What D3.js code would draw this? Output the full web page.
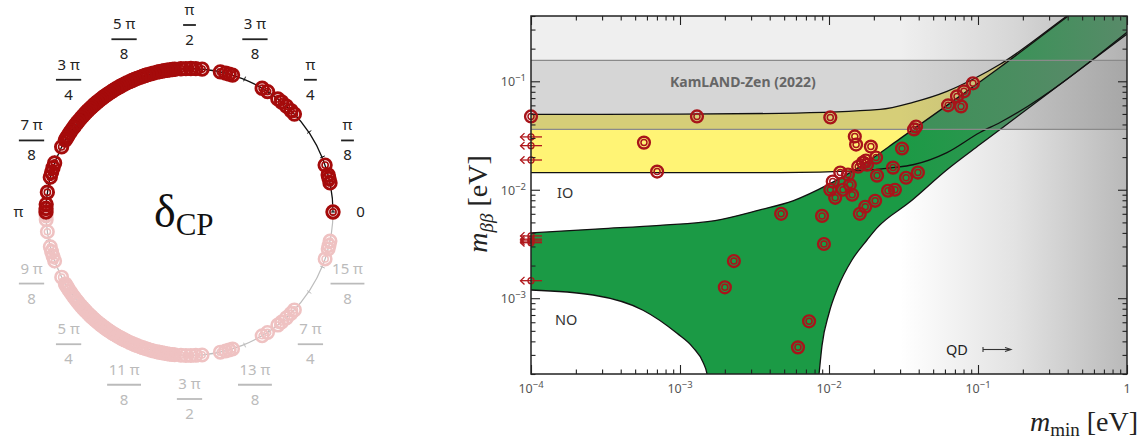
<!DOCTYPE html>
<html>
<head>
<meta charset="utf-8">
<script src="https://cdn.jsdelivr.net/npm/d3@7"></script>
<style>
  body { margin: 0; background: #fff; }
  svg { display: block; }
</style>
</head>
<body>
<div id="svg-holder"></div>
<script>
// ---- left panel: delta_CP values (in units of pi), upper half
const deltaCP = [0, 0.065, 0.075, 0.083, 0.106, 0.239, 0.25, 0.264, 0.278, 0.289, 0.317, 0.331,
  0.403, 0.411, 0.419, 0.431, 0.472, 0.486, 0.497, 0.508, 0.519, 0.533, 0.538, 0.544, 0.55,
  0.556, 0.561, 0.567, 0.572, 0.581, 0.587, 0.594, 0.6, 0.606, 0.612, 0.619, 0.625, 0.631,
  0.637, 0.644, 0.65, 0.656, 0.661, 0.667, 0.672, 0.678, 0.683, 0.689, 0.694, 0.7, 0.705,
  0.711, 0.716, 0.722, 0.728, 0.733, 0.739, 0.744, 0.75, 0.756, 0.761, 0.767, 0.773, 0.781,
  0.787, 0.794, 0.8, 0.808, 0.815, 0.822, 0.828, 0.833, 0.85, 0.889, 0.9, 0.911, 0.922,
  0.956, 0.983, 0.992, 1.0];
// angle labels, [numerator, denominator], every pi/8
const angleLabels = [["0", ""], ["π", "8"], ["π", "4"], ["3 π", "8"], ["π", "2"], ["5 π", "8"],
  ["3 π", "4"], ["7 π", "8"], ["π", ""], ["9 π", "8"], ["5 π", "4"], ["11 π", "8"], ["3 π", "2"],
  ["13 π", "8"], ["7 π", "4"], ["15 π", "8"]];

// ---- right panel
const mMin = [1.0e-4, 1.30e-3, 5.73e-4, 7.02e-4, 4.77e-3, 2.30e-3, 2.00e-3, 6.19e-3, 7.35e-3,
  9.25e-3, 8.98e-3, 1.02e-2, 1.49e-2, 1.52e-2, 1.91e-2, 3.09e-2, 2.07e-2, 1.69e-2, 1.57e-2,
  1.80e-2, 1.19e-2, 1.34e-2, 1.06e-2, 2.10e-2, 2.69e-2, 3.29e-2, 3.95e-2, 1.38e-2, 1.02e-2,
  1.24e-2, 1.10e-2, 1.43e-2, 2.49e-2, 2.77e-2, 2.04e-2, 1.75e-2, 1.61e-2, 3.84e-2, 3.72e-2,
  6.30e-2, 7.23e-2, 8.05e-2, 9.25e-2, 7.69e-2, 1.77e-2];
const mBB = [0.0474, 0.0474, 0.0272, 0.0147, 6.0e-3, 2.20e-3, 1.26e-3, 3.52e-4, 6.12e-4,
  3.16e-3, 5.74e-3, 0.0464, 0.031, 0.0261, 0.025, 0.024, 0.0198, 0.0178, 0.0163,
  0.0170, 0.0144, 0.0138, 0.0119, 0.0135, 0.016, 0.0129, 0.0144, 0.0111, 0.0100,
  0.0100, 8.43e-3, 8.99e-3, 9.79e-3, 0.0100, 7.91e-3, 6.97e-3, 6.0e-3, 0.0383, 0.036,
  0.060, 0.0726, 0.0808, 0.0958, 0.0587, 0.0186];
// upper limits drawn at the left edge (m_min below 1e-4)
const limitMBB = [0.0307, 0.0255, 0.0188, 0.00375, 0.0035, 0.00337, 0.00325, 0.00145];

// band edges, [m_min, m_bb]
const ioUpper = [[1e-4, 0.0495], [1e-3, 0.0497], [4.7e-3, 0.0506], [0.022, 0.0551], [0.0366, 0.064],
  [0.0619, 0.0808], [0.0925, 0.1044], [0.1406, 0.1436], [0.395, 0.40], [1, 1.02]];
const ioLower = [[1e-4, 0.0144], [4.7e-3, 0.0144], [0.0161, 0.0150], [0.0269, 0.0160], [0.0366, 0.0170],
  [0.0619, 0.0220], [0.103, 0.0337], [0.1406, 0.0417], [1, 0.284]];
const noUpper = [[1e-4, 0.0040], [2.9e-4, 0.00436], [7.35e-4, 0.00470], [1.72e-3, 0.00520],
  [3.44e-3, 0.00653], [5.73e-3, 0.0079], [0.01016, 0.01137], [0.01614, 0.01633], [0.030, 0.0296],
  [0.0619, 0.060], [0.1406, 0.1349], [0.395, 0.392], [1, 1.0]];
const noLowerLeft = [[1e-4, 0.00119], [2.61e-4, 0.00107], [5.65e-4, 7.75e-4], [9.55e-4, 4.74e-4],
  [1.22e-3, 3.52e-4], [1.43e-3, 2.55e-4], [1.52e-3, 1.98e-4], [1.57e-3, 1.41e-4]];
const noLowerRight = [[8.3e-3, 1.26e-4], [8.57e-3, 1.98e-4], [8.98e-3, 3.67e-4], [0.0100, 7.26e-4],
  [0.01149, 1.26e-3], [0.01426, 2.25e-3], [0.018, 3.44e-3], [0.021, 4.45e-3], [0.035, 7.74e-3],
  [0.0619, 0.0153], [0.103, 0.0261], [0.1406, 0.036], [1, 0.272]];

const kamland = [0.036, 0.156];
const qdStart = 0.03;
const xMajor = [1e-4, 1e-3, 1e-2, 1e-1, 1];
const xTickLabels = [["10", "−4"], ["10", "−3"], ["10", "−2"], ["10", "−1"], ["1", ""]];
const yMajor = [1e-3, 1e-2, 1e-1];
const yTickLabels = [["10", "−3"], ["10", "−2"], ["10", "−1"]];

const svg = d3.select("#svg-holder").append("svg")
  .attr("width", 1145).attr("height", 441);

// ===================== left: delta_CP circle
const cx = 189.5, cy = 212, R = 143.5;
const red = "#a50b0b", pale = "#efc2c2";
const ang = d3.scaleLinear().domain([0, 2]).range([Math.PI / 2, Math.PI / 2 - 2 * Math.PI]);
const polar = (d, r) => d3.pointRadial(ang(d), r);
const lp = svg.append("g").attr("transform", `translate(${cx},${cy})`);

const upperArc = d3.path(); upperArc.moveTo(-R, 0); upperArc.arc(0, 0, R, Math.PI, 2 * Math.PI);
const lowerArc = d3.path(); lowerArc.moveTo(R, 0); lowerArc.arc(0, 0, R, 0, Math.PI);
lp.append("path").attr("d", lowerArc.toString()).attr("fill", "none").attr("stroke", "#bdbdbd").attr("stroke-width", 1.2);
lp.append("path").attr("d", upperArc.toString()).attr("fill", "none").attr("stroke", "#111").attr("stroke-width", 1.3);

lp.selectAll("line.tick").data(d3.range(32).map(i => i / 16)).join("line")
  .attr("class", "tick")
  .attr("x1", d => polar(d, R - 2)[0]).attr("y1", d => polar(d, R - 2)[1])
  .attr("x2", d => polar(d, R + 3)[0]).attr("y2", d => polar(d, R + 3)[1])
  .attr("stroke", d => d <= 1 ? "#111" : "#bdbdbd").attr("stroke-width", 1);

function ringMarks(g, vals, col, r1, w1, r2, w2) {
  const m = g.append("g").selectAll("g").data(vals).join("g")
    .attr("transform", d => `translate(${polar(d, R)})`);
  m.append("circle").attr("r", r1).attr("fill", "none").attr("stroke", col).attr("stroke-width", w1);
  m.append("circle").attr("r", r2).attr("fill", "none").attr("stroke", col).attr("stroke-width", w2);
}
ringMarks(lp, deltaCP.map(d => 2 - d), pale, 6.2, 2.6, 3.1, 1.5);
ringMarks(lp, deltaCP, red, 6.2, 2.9, 3.1, 1.6);

const lab = lp.selectAll("g.lab").data(angleLabels).join("g").attr("class", "lab")
  .attr("transform", (d, i) => {
    const a = ang(i / 8);
    return `translate(${171 * Math.sin(a)},${-187 * Math.cos(a)})`;
  })
  .attr("fill", (d, i) => i <= 8 ? "#222" : "#bbb")
  .attr("font-family", "'Noto Sans', 'DejaVu Sans', sans-serif").attr("font-size", 15);
lab.each(function (d, i) {
  const g = d3.select(this);
  const col = i <= 8 ? "#222" : "#bbb";
  if (d[1] === "") {
    g.append("text").attr("text-anchor", "middle").attr("y", 5).text(d[0]);
  } else {
    const num = g.append("text").attr("text-anchor", "middle").attr("y", -10).text(d[0]);
    const w = num.node().getComputedTextLength() + 3;
    g.append("line").attr("x1", -w / 2).attr("x2", w / 2).attr("stroke", col).attr("stroke-width", 1.8);
    g.append("text").attr("text-anchor", "middle").attr("y", 20).text(d[1]);
  }
});

const dl = svg.append("text").attr("x", 154).attr("y", 227)
  .attr("font-family", "'Liberation Serif', 'DejaVu Serif', serif").attr("font-size", 46).attr("fill", "#111");
dl.append("tspan").text("δ");
dl.append("tspan").attr("font-size", 31).attr("dy", 8).text("CP");

// ===================== right: m_bb vs m_min
const x = d3.scaleLog().domain([1e-4, 1]).range([531, 1127]);
const y = d3.scaleLog().domain([2e-4, 0.4]).range([374, 16]);
const [x0, x1] = x.range(), [y0, y1] = y.range();
const defs = svg.append("defs");
defs.append("clipPath").attr("id", "plotClip").append("rect")
  .attr("x", x0).attr("y", y1).attr("width", x1 - x0).attr("height", y0 - y1);

const curve = d3.curveMonotoneX;
const under = d3.area().x(d => x(d[0])).y0(y0 + 60).y1(d => y(d[1])).curve(curve);
const over = d3.area().x(d => x(d[0])).y0(y1 - 60).y1(d => y(d[1])).curve(curve);
const line = d3.line().x(d => x(d[0])).y(d => y(d[1])).curve(curve);

defs.append("clipPath").attr("id", "aboveIO").append("path").attr("d", over(ioLower));
const qd = defs.append("linearGradient").attr("id", "qdGrad").attr("gradientUnits", "userSpaceOnUse")
  .attr("x1", x(qdStart)).attr("x2", x1).attr("y1", 0).attr("y2", 0);
qd.append("stop").attr("offset", 0).attr("stop-color", "#808080").attr("stop-opacity", 0);
qd.append("stop").attr("offset", 0.5).attr("stop-color", "#808080").attr("stop-opacity", 0.22);
qd.append("stop").attr("offset", 1).attr("stop-color", "#808080").attr("stop-opacity", 0.55);

const pl = svg.append("g").attr("clip-path", "url(#plotClip)");
pl.append("rect").attr("x", x0).attr("y", y1).attr("width", x1 - x0).attr("height", y0 - y1).attr("fill", "#fff");
pl.append("path").attr("d", under(ioUpper)).attr("fill", "#fff475").attr("clip-path", "url(#aboveIO)");
pl.append("path").attr("d", under(noUpper)).attr("fill", "#1b9a45");
pl.append("path").attr("d", under(noLowerLeft)).attr("fill", "#fff");
pl.append("path").attr("d", under(noLowerRight)).attr("fill", "#fff");
pl.append("rect").attr("x", x0).attr("width", x1 - x0).attr("y", y1).attr("height", y(kamland[1]) - y1)
  .attr("fill", "#808080").attr("fill-opacity", 0.13);
pl.append("rect").attr("x", x0).attr("width", x1 - x0).attr("y", y(kamland[1]))
  .attr("height", y(kamland[0]) - y(kamland[1])).attr("fill", "#808080").attr("fill-opacity", 0.32);
pl.append("rect").attr("x", x0).attr("y", y1).attr("width", x1 - x0).attr("height", y0 - y1).attr("fill", "url(#qdGrad)");
[ioUpper, ioLower, noUpper, noLowerLeft, noLowerRight].forEach(b =>
  pl.append("path").attr("d", line(b)).attr("fill", "none").attr("stroke", "#111").attr("stroke-width", 1.3));
kamland.forEach(v => pl.append("line").attr("x1", x0).attr("x2", x1).attr("y1", y(v)).attr("y2", y(v))
  .attr("stroke", "#8a8a8a").attr("stroke-width", 1.3));

const sans = "'Noto Sans', 'DejaVu Sans', sans-serif";
svg.append("text").attr("x", 670).attr("y", 87).attr("font-family", sans).attr("font-weight", "bold")
  .attr("font-size", 14).attr("fill", "#666").text("KamLAND-Zen (2022)");
svg.append("text").attr("x", 557).attr("y", 198).attr("font-family", sans).attr("font-size", 14.5)
  .attr("fill", "#333").text("IO");
svg.append("text").attr("x", 555).attr("y", 325).attr("font-family", sans).attr("font-size", 14.5)
  .attr("fill", "#333").text("NO");
svg.append("text").attr("x", 946).attr("y", 355).attr("font-family", sans).attr("font-size", 14.5)
  .attr("fill", "#222").text("QD");
svg.append("line").attr("x1", 983).attr("x2", 1010).attr("y1", 349.5).attr("y2", 349.5).attr("stroke", "#333").attr("stroke-width", 1.1);
svg.append("line").attr("x1", 983).attr("x2", 983).attr("y1", 347).attr("y2", 352).attr("stroke", "#333").attr("stroke-width", 1.1);
svg.append("path").attr("d", "M1005,347.5L1011,349.5L1005,351.5").attr("fill", "none").attr("stroke", "#333").attr("stroke-width", 1.1);

// data points
const ptRed = "#a8141a";
const pts = svg.append("g").selectAll("g").data(mMin.map((m, i) => [m, mBB[i]])).join("g")
  .attr("transform", d => `translate(${x(d[0])},${y(d[1])})`);
pts.append("circle").attr("r", 5.9).attr("fill", "none").attr("stroke", ptRed).attr("stroke-width", 2.4);
pts.append("circle").attr("r", 3).attr("fill", "none").attr("stroke", ptRed).attr("stroke-width", 1.5);

const arr = svg.append("g").selectAll("g").data(limitMBB).join("g")
  .attr("transform", d => `translate(${x(1e-4)},${y(d)})`)
  .attr("fill", "none").attr("stroke", "#b0181c").attr("stroke-width", 1.3);
arr.append("circle").attr("r", 3);
arr.append("line").attr("x1", -10.5).attr("x2", 11);
arr.append("path").attr("d", "M-6.5,-3.8L-10.5,0L-6.5,3.8");

// axes
const isMajor = v => Math.abs(Math.log10(v) - Math.round(Math.log10(v))) < 1e-6;
const xMinor = x.ticks().filter(v => !isMajor(v));
const yMinor = y.ticks().filter(v => !isMajor(v));
const ax = svg.append("g").attr("class", "axes");
function addAxis(gen, tr) {
  const g = ax.append("g").attr("transform", tr).call(gen);
  g.select(".domain").remove();
  g.selectAll("line").attr("stroke", "#222").attr("stroke-width", 1.1);
}
addAxis(d3.axisBottom(x).tickValues(xMajor).tickSize(-9).tickFormat(""), `translate(0,${y0})`);
addAxis(d3.axisBottom(x).tickValues(xMinor).tickSize(-4.5).tickFormat(""), `translate(0,${y0})`);
addAxis(d3.axisTop(x).tickValues(xMajor).tickSize(-9).tickFormat(""), `translate(0,${y1})`);
addAxis(d3.axisTop(x).tickValues(xMinor).tickSize(-4.5).tickFormat(""), `translate(0,${y1})`);
addAxis(d3.axisLeft(y).tickValues(yMajor).tickSize(-9).tickFormat(""), `translate(${x0},0)`);
addAxis(d3.axisLeft(y).tickValues(yMinor).tickSize(-4.5).tickFormat(""), `translate(${x0},0)`);
addAxis(d3.axisRight(y).tickValues(yMajor).tickSize(-9).tickFormat(""), `translate(${x1},0)`);
addAxis(d3.axisRight(y).tickValues(yMinor).tickSize(-4.5).tickFormat(""), `translate(${x1},0)`);
svg.append("rect").attr("x", x0).attr("y", y1).attr("width", x1 - x0).attr("height", y0 - y1)
  .attr("fill", "none").attr("stroke", "#222").attr("stroke-width", 1.5);

function powLabel(px, py, lbl, anchor) {
  const t = svg.append("text").attr("x", px).attr("y", py).attr("text-anchor", anchor)
    .attr("font-family", sans).attr("font-size", 12.5).attr("fill", "#555");
  t.append("tspan").text(lbl[0]);
  if (lbl[1]) {
    t.append("tspan").attr("font-size", 9.5).attr("dy", -5).text(lbl[1]);
  }
}
xMajor.forEach((v, i) => powLabel(x(v), y0 + 19, xTickLabels[i], "middle"));
yMajor.forEach((v, i) => powLabel(x0 - 5, y(v) + 5, yTickLabels[i], "end"));

// axis titles
const serif = "'Liberation Serif', 'DejaVu Serif', serif";
const yt = svg.append("text").attr("transform", "translate(487,204) rotate(-90)")
  .attr("text-anchor", "middle").attr("font-family", serif).attr("font-size", 28).attr("fill", "#222");
yt.append("tspan").attr("font-style", "italic").text("m");
yt.append("tspan").attr("font-style", "italic").attr("font-size", 19).attr("dy", 6).text("ββ");
yt.append("tspan").attr("dy", -6).text(" [eV]");

const xt = svg.append("text").attr("x", 1138).attr("y", 431).attr("text-anchor", "end")
  .attr("font-family", serif).attr("font-size", 28).attr("fill", "#222");
xt.append("tspan").attr("font-style", "italic").text("m");
xt.append("tspan").attr("font-size", 19).attr("dy", 5).text("min");
xt.append("tspan").attr("dy", -5).text(" [eV]");
</script>
</body>
</html>
